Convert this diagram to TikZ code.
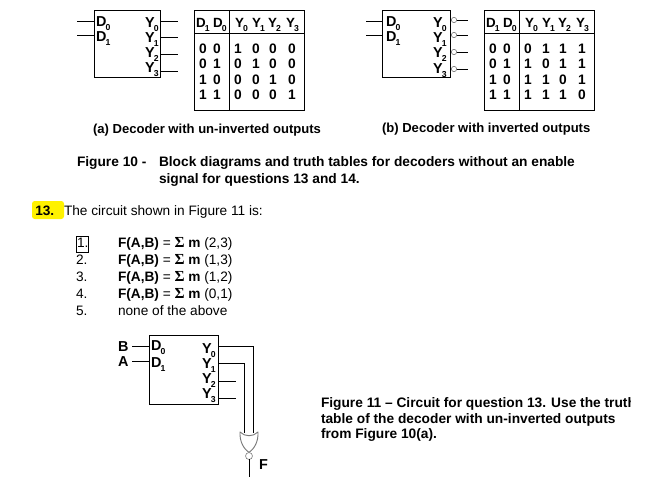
\documentclass[tikz,border=0pt]{standalone}
\usepackage{fontspec}
\setmainfont{Liberation Sans}
\newfontfamily\sigmafont{Liberation Serif}
\definecolor{hl}{HTML}{FFF200}
\definecolor{gategray}{HTML}{7A7A7A}
\newcommand{\sgm}{{\sigmafont\bfseries\fontsize{11.5pt}{12pt}\selectfont Σ}}
\newcommand{\sbt}[1]{\textsubscript{\kern-0.5pt\raisebox{-1.8pt}{\fontsize{6.5pt}{7pt}\selectfont #1}}}
\tikzset{
  x=0.75pt,y=-0.75pt,
  wire/.style={draw=black,line width=0.6pt},
  blockbox/.style={draw=black,line width=0.6pt,inner sep=0pt,rectangle},
  lbl/.style={anchor=base west,inner sep=0pt,outer sep=0pt,font=\fontsize{10.8pt}{12pt}\selectfont\bfseries},
  hdr/.style={anchor=base west,inner sep=0pt,outer sep=0pt,font=\fontsize{10pt}{11pt}\selectfont\bfseries},
  digit/.style={anchor=base,inner sep=0pt,outer sep=0pt,font=\fontsize{10.3pt}{11pt}\selectfont\bfseries},
  capt/.style={anchor=base west,inner sep=0pt,outer sep=0pt,font=\fontsize{9.8pt}{11pt}\selectfont\bfseries},
  captb/.style={anchor=base west,inner sep=0pt,outer sep=0pt,font=\fontsize{10.3pt}{11pt}\selectfont\bfseries},
  body/.style={anchor=base west,inner sep=0pt,outer sep=0pt,font=\fontsize{10.25pt}{12pt}\selectfont},
  bubble/.style={circle,draw=gategray,fill=white,line width=0.45pt,inner sep=0pt,outer sep=0pt,minimum size=4pt},
}
\begin{document}
\begin{tikzpicture}
\useasboundingbox (0,0) rectangle (661,483);
\clip (0,0) rectangle (661,483);
% ---------- decoder (a)
\node[blockbox,minimum width=49.5pt,minimum height=50.25pt] (boxa) at (127,43.5) {};
\node[lbl] (ad0) at (96,26) {D\sbt{0}};
\node[lbl] (ad1) at (96,41) {D\sbt{1}};
\node[lbl] (ay0) at (145,27) {Y\sbt{0}};
\node[lbl] (ay1) at (145,42) {Y\sbt{1}};
\node[lbl] (ay2) at (145,57) {Y\sbt{2}};
\node[lbl] (ay3) at (145,72) {Y\sbt{3}};
\coordinate (aina) at (77,21);
\coordinate (ainb) at (77,35);
\coordinate (aouta) at (178,21);
\coordinate (aoutb) at (178,37);
\coordinate (aoutc) at (178,54);
\coordinate (aoutd) at (178,71);
\draw[wire] (aina) -- (aina -| boxa.west);
\draw[wire] (ainb) -- (ainb -| boxa.west);
\draw[wire] (aouta -| boxa.east) -- (aouta);
\draw[wire] (aoutb -| boxa.east) -- (aoutb);
\draw[wire] (aoutc -| boxa.east) -- (aoutc);
\draw[wire] (aoutd -| boxa.east) -- (aoutd);
% ---------- decoder (b)
\node[blockbox,minimum width=51pt,minimum height=50.25pt] (boxb) at (416,43.5) {};
\node[lbl] (bd0) at (386,26) {D\sbt{0}};
\node[lbl] (bd1) at (386,41) {D\sbt{1}};
\node[lbl] (by0) at (433,27) {Y\sbt{0}};
\node[lbl] (by1) at (433,42) {Y\sbt{1}};
\node[lbl] (by2) at (433,57) {Y\sbt{2}};
\node[lbl] (by3) at (433,73) {Y\sbt{3}};
\coordinate (bina) at (366,21);
\coordinate (binb) at (366,35);
\node[bubble] (bba) at (454,20) {};
\node[bubble] (bbb) at (454,35) {};
\node[bubble] (bbc) at (454,52) {};
\node[bubble] (bbd) at (454,69) {};
\coordinate (bouta) at (468,20);
\coordinate (boutb) at (468,35);
\coordinate (boutc) at (468,52);
\coordinate (boutd) at (468,69);
\draw[wire] (bina) -- (bina -| boxb.west);
\draw[wire] (binb) -- (binb -| boxb.west);
\draw[wire] (bba) -- (bouta);
\draw[wire] (bbb) -- (boutb);
\draw[wire] (bbc) -- (boutc);
\draw[wire] (bbd) -- (boutd);
% ---------- truth tables
\foreach \pre/\off/\rows in {ta/0/{1/0/0/1/0/0/0,2/0/1/0/1/0/0,3/1/0/0/0/1/0,4/1/1/0/0/0/1},
                             tb/290/{1/0/0/0/1/1/1,2/0/1/1/0/1/1,3/1/0/1/1/0/1,4/1/1/1/1/1/0}}{
  \begin{scope}[shift={(\off,0)}]
    \node[blockbox,minimum width=82.5pt,minimum height=75pt] (\pre box) at (249,60) {};
    \coordinate (\pre vt) at (229,10);
    \coordinate (\pre vb) at (229,110);
    \coordinate (\pre hl) at (194,33);
    \coordinate (\pre hr) at (304,33);
    \draw[wire] (\pre vt) -- (\pre vb);
    \draw[wire] (\pre hl) -- (\pre hr);
    \node[hdr] (\pre h1) at (196,27) {D\sbt{1}};
    \node[hdr] (\pre h2) at (213,27) {D\sbt{0}};
    \node[hdr] (\pre h3) at (235,27) {Y\sbt{0}};
    \node[hdr] (\pre h4) at (252,27) {Y\sbt{1}};
    \node[hdr] (\pre h5) at (268,27) {Y\sbt{2}};
    \node[hdr] (\pre h6) at (286,27) {Y\sbt{3}};
    \foreach \r/\p/\q/\s/\t/\u/\v in \rows {
      \pgfmathsetmacro{\yy}{37.5+15.5*\r}
      \node[digit] (\pre c\r a) at (203,\yy) {\p};
      \node[digit] (\pre c\r b) at (217,\yy) {\q};
      \node[digit] (\pre c\r c) at (238,\yy) {\s};
      \node[digit] (\pre c\r d) at (256,\yy) {\t};
      \node[digit] (\pre c\r e) at (273,\yy) {\u};
      \node[digit] (\pre c\r f) at (292,\yy) {\v};
    }
  \end{scope}
}
% ---------- captions
\node[capt] (capa) at (93,133) {(a) Decoder with un-inverted outputs};
\node[capt] (capb) at (382,132) {(b) Decoder with inverted outputs};
\node[captb] (fig10) at (77,166) {Figure 10 -};
\node[captb] (fig10a) at (159,166) {Block diagrams and truth tables for decoders without an enable};
\node[captb] (fig10b) at (159,183) {signal for questions 13 and 14.};
% ---------- question
\fill[hl,rounded corners=2pt] (32,201) rectangle (64,219);
\node[anchor=base west,inner sep=0pt,font=\fontsize{10.25pt}{12pt}\selectfont\bfseries] (q13) at (35,215) {13.};
\node[body] (qtext) at (64,215) {The circuit shown in Figure 11 is:};
\node[body] (n1) at (77,247) {1.};
\node[draw=black,line width=0.6pt,inner sep=0pt,minimum width=9pt,minimum height=12pt] (ansbox) at (82,244) {};
\node[body] (n2) at (76,264) {2.};
\node[body] (n3) at (76,281) {3.};
\node[body] (n4) at (76,298) {4.};
\node[body] (n5) at (76,315) {5.};
\node[body] (o1) at (118,247) {\textbf{F(A,B)} = \sgm{} \textbf{m} (2,3)};
\node[body] (o2) at (118,264) {\textbf{F(A,B)} = \sgm{} \textbf{m} (1,3)};
\node[body] (o3) at (118,281) {\textbf{F(A,B)} = \sgm{} \textbf{m} (1,2)};
\node[body] (o4) at (118,298) {\textbf{F(A,B)} = \sgm{} \textbf{m} (0,1)};
\node[body] (o5) at (118,315) {none of the above};
% ---------- circuit
\node[blockbox,minimum width=51.75pt,minimum height=51.75pt] (boxc) at (183.5,369.5) {};
\node[lbl] (cb) at (118,351) {B};
\node[lbl] (ca) at (118,366) {A};
\node[lbl] (cd0) at (151,350) {D\sbt{0}};
\node[lbl] (cd1) at (151,367) {D\sbt{1}};
\node[lbl] (cy0) at (202,353) {Y\sbt{0}};
\node[lbl] (cy1) at (202,368) {Y\sbt{1}};
\node[lbl] (cy2) at (202,383) {Y\sbt{2}};
\node[lbl] (cy3) at (202,398) {Y\sbt{3}};
\coordinate (cinb) at (132,346);
\coordinate (cina) at (132,361);
\coordinate (cout0) at (218,346);
\coordinate (cout1) at (218,363);
\coordinate (cout2) at (236,381);
\coordinate (cout3) at (236,398);
\coordinate (gin0) at (253,433);
\coordinate (gin1) at (244,433);
\coordinate (gtl) at (240,432);
\coordinate (gtr) at (258,432);
\coordinate (gtip) at (249,452.5);
\draw[wire] (cinb) -- (cinb -| boxc.west);
\draw[wire] (cina) -- (cina -| boxc.west);
\draw[wire] (cout0) -| (gin0);
\draw[wire] (cout1) -| (gin1);
\draw[wire] (cout2 -| boxc.east) -- (cout2);
\draw[wire] (cout3 -| boxc.east) -- (cout3);
\draw[gategray,line width=0.7pt,line join=round]
  (gtl) .. controls (245,437) and (253,437) .. (gtr)
  .. controls (258.5,442) and (254,449) .. (gtip)
  .. controls (244,449) and (239.5,442) .. (gtl) -- cycle;
\node[bubble,minimum size=5.2pt] (gbub) at (249,456) {};
\coordinate (fend) at (249,477);
\draw[wire] (gbub) -- (fend);
\node[lbl] (fout) at (259,469) {F};
% ---------- figure 11 caption
\begin{scope}
  \clip (315,390) rectangle (630,412);
  \node[captb] (f11a) at (321,407) {Figure 11 – Circuit for question 13. Use the truth};
\end{scope}
\node[captb] (f11b) at (321,423) {table of the decoder with un-inverted outputs};
\node[captb] (f11c) at (321,438) {from Figure 10(a).};
\end{tikzpicture}
\end{document}
